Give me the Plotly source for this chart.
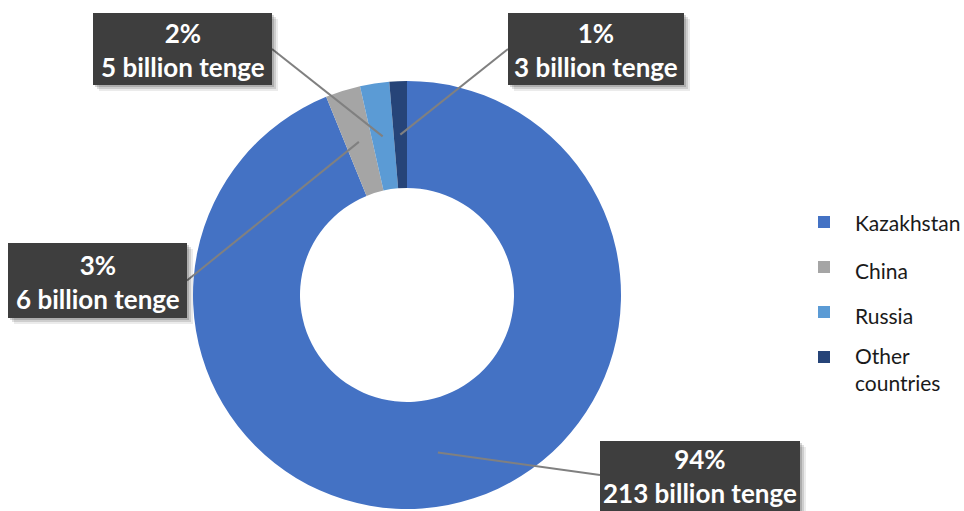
import math
import plotly.graph_objects as go

W, H = 964, 511

# Import sources, billion tenge
countries = ["Kazakhstan", "China", "Russia", "Other countries"]
values = [213, 6, 5, 3]
colors = ["#4472C4", "#A5A5A5", "#5B9BD5", "#264478"]
pct_labels = ["94%", "3%", "2%", "1%"]
amount_labels = ["213 billion tenge", "6 billion tenge", "5 billion tenge", "3 billion tenge"]
legend_labels = ["Kazakhstan", "China", "Russia", "Other<br>countries"]

# Donut geometry in pixels
cx, cy, R = 407, 295, 214
HOLE = 0.5


def fx(x):
    return x / W


def fy(y):
    return 1 - y / H


fig = go.Figure()
fig.add_trace(go.Pie(
    labels=countries,
    values=values,
    hole=HOLE,
    sort=False,
    direction="clockwise",
    rotation=0,
    marker=dict(colors=colors, line=dict(width=0)),
    textinfo="none",
    hoverinfo="label+value+percent",
    showlegend=False,
    domain=dict(x=[fx(cx - R), fx(cx + R)], y=[fy(cy + R), fy(cy - R)]),
))

# Callout boxes: (left, top, right, bottom) and the side where the leader starts
boxes = [
    (600, 441, 800, 517, "left"),   # Kazakhstan
    (8, 243, 187, 318, "right"),    # China
    (93, 13, 272, 85, "right"),     # Russia
    (508, 13, 684, 85, "left"),     # Other countries
]

shapes = []
annotations = []
total = sum(values)
cum = 0.0
r_mid = R * (1 + HOLE) / 2
for i, v in enumerate(values):
    mid = (cum + v / 2) / total * 2 * math.pi
    cum += v
    px_ = cx + r_mid * math.sin(mid)
    py_ = cy - r_mid * math.cos(mid)
    x0, y0, x1, y1, side = boxes[i]
    sx = x0 if side == "left" else x1
    sy = (y0 + y1) / 2
    if i == 0:
        sy = 475
    shapes.append(dict(type="line", xref="paper", yref="paper",
                       x0=fx(sx), y0=fy(sy), x1=fx(px_), y1=fy(py_),
                       line=dict(color="#808080", width=2)))
    # soft shadow
    for k, op in [(6, 0.08), (4, 0.12), (2, 0.16)]:
        shapes.append(dict(type="rect", xref="paper", yref="paper",
                           x0=fx(x0 + k), y0=fy(y1 + k), x1=fx(x1 + k), y1=fy(y0 + k),
                           fillcolor="rgba(0,0,0,%.2f)" % op, line=dict(width=0)))
    shapes.append(dict(type="rect", xref="paper", yref="paper",
                       x0=fx(x0), y0=fy(y1), x1=fx(x1), y1=fy(y0),
                       fillcolor="#3E3E3E", line=dict(width=0)))
    ty = (y0 + y1) / 2 + 1 if i else 476
    annotations.append(dict(
        xref="paper", yref="paper", x=fx((x0 + x1) / 2), y=fy(ty),
        text="<b>%s</b><br><b>%s</b>" % (pct_labels[i], amount_labels[i]),
        showarrow=False, xanchor="center", yanchor="middle", align="center",
        font=dict(family="Lato, Carlito, sans-serif", size=26, color="white"),
    ))

# Legend drawn at the right
legend_rows = [222, 267, 312, 357]
legend_text_y = [222, 270, 315, 369]
for i, lab in enumerate(legend_labels):
    yc = legend_rows[i]
    shapes.append(dict(type="rect", xref="paper", yref="paper",
                       x0=fx(818), y0=fy(yc + 6), x1=fx(830), y1=fy(yc - 6),
                       fillcolor=colors[i], line=dict(width=0)))
    annotations.append(dict(
        xref="paper", yref="paper", x=fx(853), y=fy(legend_text_y[i]),
        text=lab, showarrow=False, xanchor="left", yanchor="middle", align="left",
        font=dict(family="Lato, Carlito, sans-serif", size=21, color="#1a1a1a"),
    ))

fig.update_layout(
    width=W, height=H,
    margin=dict(l=0, r=0, t=0, b=0),
    paper_bgcolor="white",
    plot_bgcolor="white",
    shapes=shapes,
    annotations=annotations,
)

fig.write_html("out.html")
